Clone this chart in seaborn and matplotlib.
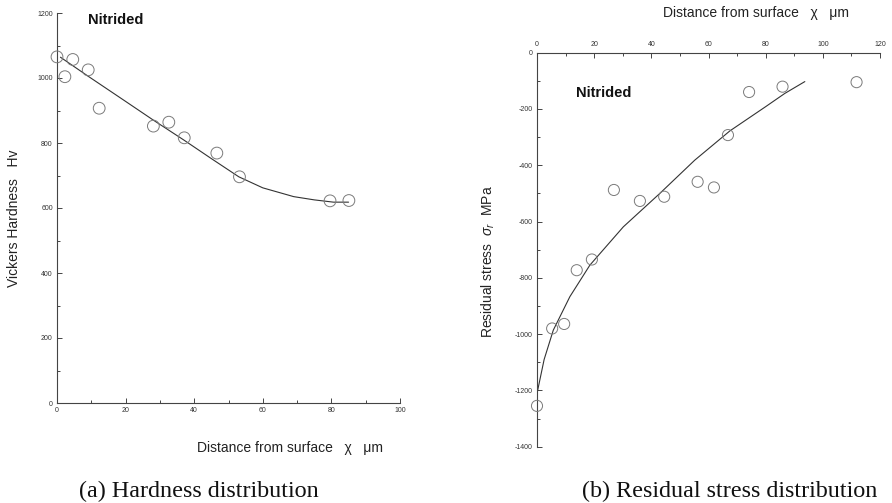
import numpy as np
import pandas as pd
import matplotlib
matplotlib.use("Agg")
import matplotlib.pyplot as plt
from matplotlib.ticker import MultipleLocator, FixedLocator
import seaborn as sns

# ---------------- data ----------------
# (a) hardness distribution: measured points
hard_x = [0, 2.3, 4.6, 9.1, 12.3, 28.1, 32.6, 37.1, 46.6, 53.2, 79.6, 85.1]
hard_y = [1065, 1004, 1057, 1025, 907, 852, 864, 816, 769, 696, 622, 623]
# (a) fitted curve
hard_fit_x = [1, 9, 20, 28, 37, 45, 53, 60, 69, 75, 80.6, 85]
hard_fit_y = [1064, 1006, 928, 871, 809, 752, 696, 662, 635, 625, 618, 618]

# (b) residual stress distribution: measured points
res_x = [0, 5.3, 9.5, 13.9, 19.2, 26.9, 36.0, 44.5, 56.2, 61.9, 66.8, 74.2, 85.9, 111.8]
res_y = [-1255, -980, -964, -773, -735, -488, -527, -512, -459, -479, -293, -140, -121, -105]
# (b) fitted curve
res_fit_x = [0, 2.5, 5.7, 11.5, 18.5, 30.2, 43.0, 55.2, 67.5, 80, 86.7, 93.7]
res_fit_y = [-1211, -1090, -986, -867, -755, -619, -500, -382, -278, -192, -145, -103]

hard_yticks = [0, 200, 400, 600, 800, 1000, 1200]
hard_xticks = [0, 20, 40, 60, 80, 100]
res_yticks = [0, -200, -400, -600, -800, -1000, -1200, -1400]
res_xticks = [0, 20, 40, 60, 80, 100, 120]

# ---------------- style ----------------
sns.set_theme(style="white")
plt.rcParams["font.family"] = ["Liberation Sans", "DejaVu Sans"]
plt.rcParams["axes.unicode_minus"] = False
plt.rcParams["mathtext.fontset"] = "custom"
plt.rcParams["mathtext.rm"] = "Liberation Sans"
plt.rcParams["mathtext.it"] = "Liberation Sans:italic"

W, H = 892, 503
fig = plt.figure(figsize=(W / 100, H / 100), dpi=100)

def frac_box(x0, y0, x1, y1):
    return [x0 / W, 1 - y1 / H, (x1 - x0) / W, (y1 - y0) / H]

axc = "#444444"
mk_edge = "#7a7a7a"

# ---------------- (a) ----------------
ax1 = fig.add_axes(frac_box(57, 13, 400, 403))
df_h = pd.DataFrame({"x": hard_x, "y": hard_y})
df_hf = pd.DataFrame({"x": hard_fit_x, "y": hard_fit_y})
sns.lineplot(data=df_hf, x="x", y="y", ax=ax1, color="#333333", lw=0.8, sort=False)
sns.scatterplot(data=df_h, x="x", y="y", ax=ax1, marker="o", s=72,
                facecolors="none", edgecolor=mk_edge, linewidth=0.7, clip_on=False, zorder=3)
ax1.set_xlim(0, 100)
ax1.set_ylim(0, 1200)
ax1.xaxis.set_major_locator(FixedLocator(hard_xticks))
ax1.yaxis.set_major_locator(FixedLocator(hard_yticks))
ax1.xaxis.set_minor_locator(MultipleLocator(10))
ax1.yaxis.set_minor_locator(MultipleLocator(100))
for s in ["top", "right"]:
    ax1.spines[s].set_visible(False)
for s in ["left", "bottom"]:
    ax1.spines[s].set_color(axc)
    ax1.spines[s].set_linewidth(0.8)
ax1.tick_params(which="both", direction="in", color=axc, width=0.7, labelsize=5,
                labelcolor="#333333", left=True, bottom=True)
ax1.tick_params(which="major", length=3.5, pad=3)
ax1.tick_params(which="minor", length=2)
ax1.set_xlabel("")
ax1.set_ylabel("")
ax1.text(0.09, 0.982, "Nitrided", transform=ax1.transAxes, fontsize=10.5,
         fontweight="bold", ha="left", va="center", color="#111111")

# ---------------- (b) ----------------
ax2 = fig.add_axes(frac_box(537, 52.6, 880, 446.7))
df_r = pd.DataFrame({"x": res_x, "y": res_y})
df_rf = pd.DataFrame({"x": res_fit_x, "y": res_fit_y})
sns.lineplot(data=df_rf, x="x", y="y", ax=ax2, color="#333333", lw=0.8, sort=False)
sns.scatterplot(data=df_r, x="x", y="y", ax=ax2, marker="o", s=64,
                facecolors="none", edgecolor=mk_edge, linewidth=0.7, clip_on=False, zorder=3)
ax2.set_xlim(0, 120)
ax2.set_ylim(-1400, 0)
ax2.xaxis.tick_top()
ax2.xaxis.set_major_locator(FixedLocator(res_xticks))
ax2.yaxis.set_major_locator(FixedLocator(res_yticks))
ax2.xaxis.set_minor_locator(MultipleLocator(10))
ax2.yaxis.set_minor_locator(MultipleLocator(100))
for s in ["bottom", "right"]:
    ax2.spines[s].set_visible(False)
for s in ["left", "top"]:
    ax2.spines[s].set_color(axc)
    ax2.spines[s].set_linewidth(0.8)
ax2.tick_params(which="both", direction="in", color=axc, width=0.7, labelsize=5,
                labelcolor="#333333", left=True, top=True, bottom=False,
                labeltop=True, labelbottom=False)
ax2.tick_params(which="major", length=3.5, pad=3)
ax2.tick_params(which="minor", length=2)
ax2.set_xlabel("")
ax2.set_ylabel("")
ax2.text(0.114, 0.897, "Nitrided", transform=ax2.transAxes, fontsize=10.5,
         fontweight="bold", ha="left", va="center", color="#111111")

# ---------------- labels ----------------
def ftext(px, py, s, **kw):
    fig.text(px / W, 1 - py / H, s, **kw)

ftext(14, 218, "Vickers Hardness   Hv", rotation=90, ha="center", va="center",
      fontsize=10, color="#222222")
ftext(290, 448, "Distance from surface   \u03c7   \u03bcm", ha="center", va="center",
      fontsize=10, color="#222222")
ftext(488, 262, "Residual stress  $\\sigma_r$  MPa", rotation=90, ha="center", va="center",
      fontsize=10, color="#222222")
ftext(756, 13, "Distance from surface   \u03c7   \u03bcm", ha="center", va="center",
      fontsize=10, color="#222222")

ftext(199, 491, "(a) Hardness distribution", ha="center", va="center",
      fontsize=17.4, family="Liberation Serif", color="#111111")
ftext(730, 491, "(b) Residual stress distribution", ha="center", va="center",
      fontsize=17.4, family="Liberation Serif", color="#111111")

fig.savefig("out.png", dpi=100, facecolor="white")
